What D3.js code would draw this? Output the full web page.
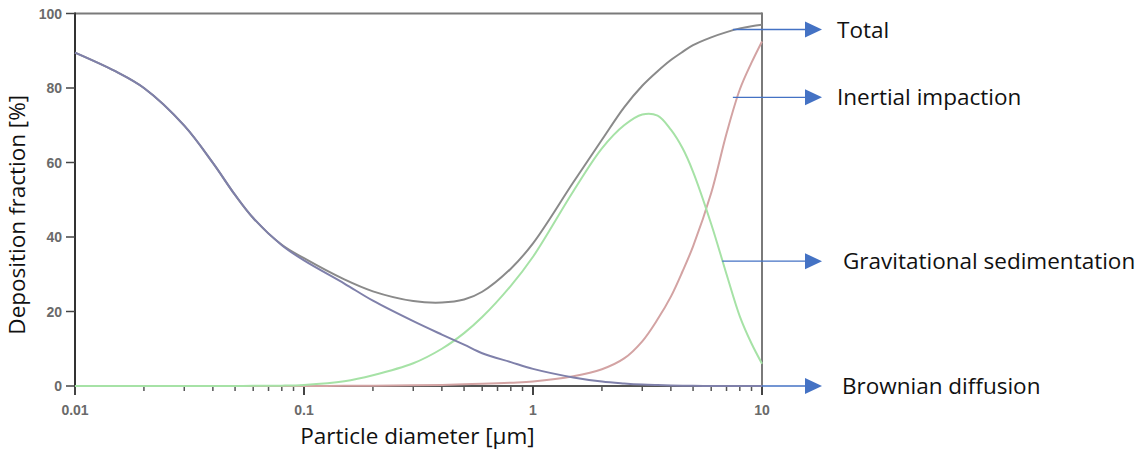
<!DOCTYPE html>
<html>
<head>
<meta charset="utf-8">
<script src="https://cdn.jsdelivr.net/npm/d3@7"></script>
<style>
  html, body { margin: 0; padding: 0; background: #fff; }
  svg { display: block; }
</style>
</head>
<body>
<svg id="chart" width="1138" height="450"></svg>
<script>
// ---- data ----
const diameters = [0.01, 0.015, 0.02, 0.03, 0.04, 0.05, 0.06, 0.08, 0.1, 0.15, 0.2, 0.3, 0.4, 0.5, 0.6, 0.8, 1, 1.5, 2, 2.5, 3, 3.5, 4, 4.5, 5, 6, 7, 8, 9, 10];
const brownian      = [89.5, 84.5, 80.0, 69.9, 59.9, 51.3, 45.1, 37.8, 33.7, 27.5, 22.9, 17.4, 13.8, 11.1, 8.8, 6.4, 4.6, 2.3, 1.2, 0.7, 0.4, 0.25, 0.15, 0.1, 0.05, 0, 0, 0, 0, 0];
const sedimentation = [0, 0, 0, 0, 0, 0, 0.05, 0.1, 0.3, 1.3, 2.9, 6.1, 10.0, 14.2, 18.5, 26.9, 34.7, 52.3, 63.8, 70.0, 72.9, 72.6, 68.8, 63.8, 57.5, 43.5, 30.0, 18.7, 11.4, 6.0];
const impaction     = [0, 0, 0, 0, 0, 0, 0, 0, 0, 0.05, 0.1, 0.2, 0.3, 0.45, 0.6, 0.9, 1.2, 2.6, 4.5, 7.4, 12.0, 17.9, 24.0, 30.8, 37.5, 51.8, 67.8, 79.6, 86.8, 92.5];
const total         = [89.5, 84.5, 80.0, 69.9, 59.9, 51.3, 45.1, 37.9, 34.3, 28.6, 25.4, 22.8, 22.4, 23.2, 25.3, 31.5, 38.3, 54.7, 66.1, 74.8, 80.6, 84.5, 87.5, 89.7, 91.5, 93.6, 95.0, 96.0, 96.6, 97.0];

const xTickValues = [0.01, 0.1, 1, 10];
const xTickLabels = ["0.01", "0.1", "1", "10"];
const yTickValues = [0, 20, 40, 60, 80, 100];

const seriesNames = ["Inertial impaction", "Gravitational sedimentation", "Total", "Brownian diffusion"];
const seriesColors = ["#d3a3a3", "#a6e2a6", "#8a8a8a", "#7f80aa"];

// annotation anchors: [diameter, value] where each arrow starts
const annoLabels = ["Total", "Inertial impaction", "Gravitational sedimentation", "Brownian diffusion"];
const annoDiam   = [7.46, 7.46, 6.7, 10];
const annoValue  = [95.7, 77.5, 33.5, 0];

const xTitle = "Particle diameter [µm]";
const yTitle = "Deposition fraction [%]";

// ---- layout ----
const svg = d3.select("#chart");
const L = 75, R = 762, T = 13.5, B = 386;

const x = d3.scaleLog().domain([0.01, 10]).range([L, R]);
const y = d3.scaleLinear().domain([0, 100]).range([B, T]);

// frame: top and right borders (gray)
svg.append("line").attr("x1", L).attr("x2", R).attr("y1", T).attr("y2", T)
  .attr("stroke", "#7a7a7a").attr("stroke-width", 2);
svg.append("line").attr("x1", R).attr("x2", R).attr("y1", T - 1).attr("y2", B)
  .attr("stroke", "#7a7a7a").attr("stroke-width", 2);

// x axis
const minorTicks = [];
for (let dec = 0.01; dec < 10; dec *= 10) {
  for (let k = 2; k <= 9; k++) minorTicks.push(+(dec * k).toPrecision(3));
}
const xAxisG = svg.append("g").attr("transform", `translate(0,${B})`);
xAxisG.append("line").attr("x1", L).attr("x2", R).attr("stroke", "#555").attr("stroke-width", 2);
xAxisG.selectAll(".minor").data(minorTicks).join("line")
  .attr("x1", d => x(d)).attr("x2", d => x(d)).attr("y1", 0).attr("y2", 5)
  .attr("stroke", "#555").attr("stroke-width", 1.5);
xAxisG.selectAll(".major").data(xTickValues).join("line")
  .attr("x1", d => x(d)).attr("x2", d => x(d)).attr("y1", 0).attr("y2", 9)
  .attr("stroke", "#444").attr("stroke-width", 2);
xAxisG.selectAll(".lbl").data(xTickValues).join("text")
  .attr("x", d => x(d)).attr("y", 29)
  .attr("text-anchor", "middle")
  .attr("font-family", "Liberation Sans, Arial, sans-serif")
  .attr("font-size", 14).attr("font-weight", "bold")
  .attr("fill", "#6a6a6a")
  .text((d, i) => xTickLabels[i]);

// y axis
const yAxisG = svg.append("g").attr("transform", `translate(${L},0)`);
yAxisG.append("line").attr("y1", T - 1).attr("y2", B + 1).attr("stroke", "#333").attr("stroke-width", 2);
yAxisG.selectAll(".tick").data(yTickValues).join("line")
  .attr("x1", -9).attr("x2", 0).attr("y1", d => y(d)).attr("y2", d => y(d))
  .attr("stroke", "#444").attr("stroke-width", 1.5);
yAxisG.selectAll(".lbl").data(yTickValues).join("text")
  .attr("x", -13).attr("y", d => y(d) + 5)
  .attr("text-anchor", "end")
  .attr("font-family", "Liberation Sans, Arial, sans-serif")
  .attr("font-size", 14).attr("font-weight", "bold")
  .attr("fill", "#6a6a6a")
  .text(d => d);

// series
const seriesData = [impaction, sedimentation, total, brownian];
const line = d3.line()
  .x((d, i) => x(diameters[i]))
  .y(d => y(d))
  .curve(d3.curveCatmullRom.alpha(0.5));
svg.append("g").selectAll("path").data(seriesData).join("path")
  .attr("d", d => line(d))
  .attr("fill", "none")
  .attr("stroke", (d, i) => seriesColors[i])
  .attr("stroke-width", 2)
  .attr("stroke-linejoin", "round");

// annotations
const arrowTipX = 822, arrowBaseX = 805, textX = [837, 837, 843, 842];
const annoG = svg.append("g");
annoLabels.forEach((lab, i) => {
  const yy = y(annoValue[i]);
  const x0 = x(annoDiam[i]);
  annoG.append("line").attr("x1", x0).attr("x2", arrowBaseX + 2).attr("y1", yy).attr("y2", yy)
    .attr("stroke", "#4472c4").attr("stroke-width", 1.3);
  annoG.append("path")
    .attr("d", `M${arrowBaseX},${yy - 8}L${arrowTipX},${yy}L${arrowBaseX},${yy + 8}Z`)
    .attr("fill", "#4472c4");
  annoG.append("text")
    .attr("x", textX[i]).attr("y", yy + 8)
    .attr("font-family", "Open Sans, sans-serif")
    .attr("font-size", 22.5)
    .attr("fill", "#111")
    .text(lab);
});

// axis titles
svg.append("text")
  .attr("x", (L + R) / 2 - 1).attr("y", 444)
  .attr("text-anchor", "middle")
  .attr("font-family", "Open Sans, sans-serif")
  .attr("font-size", 22.5)
  .attr("fill", "#111")
  .text(xTitle);
svg.append("text")
  .attr("transform", `translate(25,${(T + B) / 2 + 15}) rotate(-90)`)
  .attr("text-anchor", "middle")
  .attr("font-family", "Open Sans, sans-serif")
  .attr("font-size", 22.5)
  .attr("fill", "#111")
  .text(yTitle);
</script>
</body>
</html>
